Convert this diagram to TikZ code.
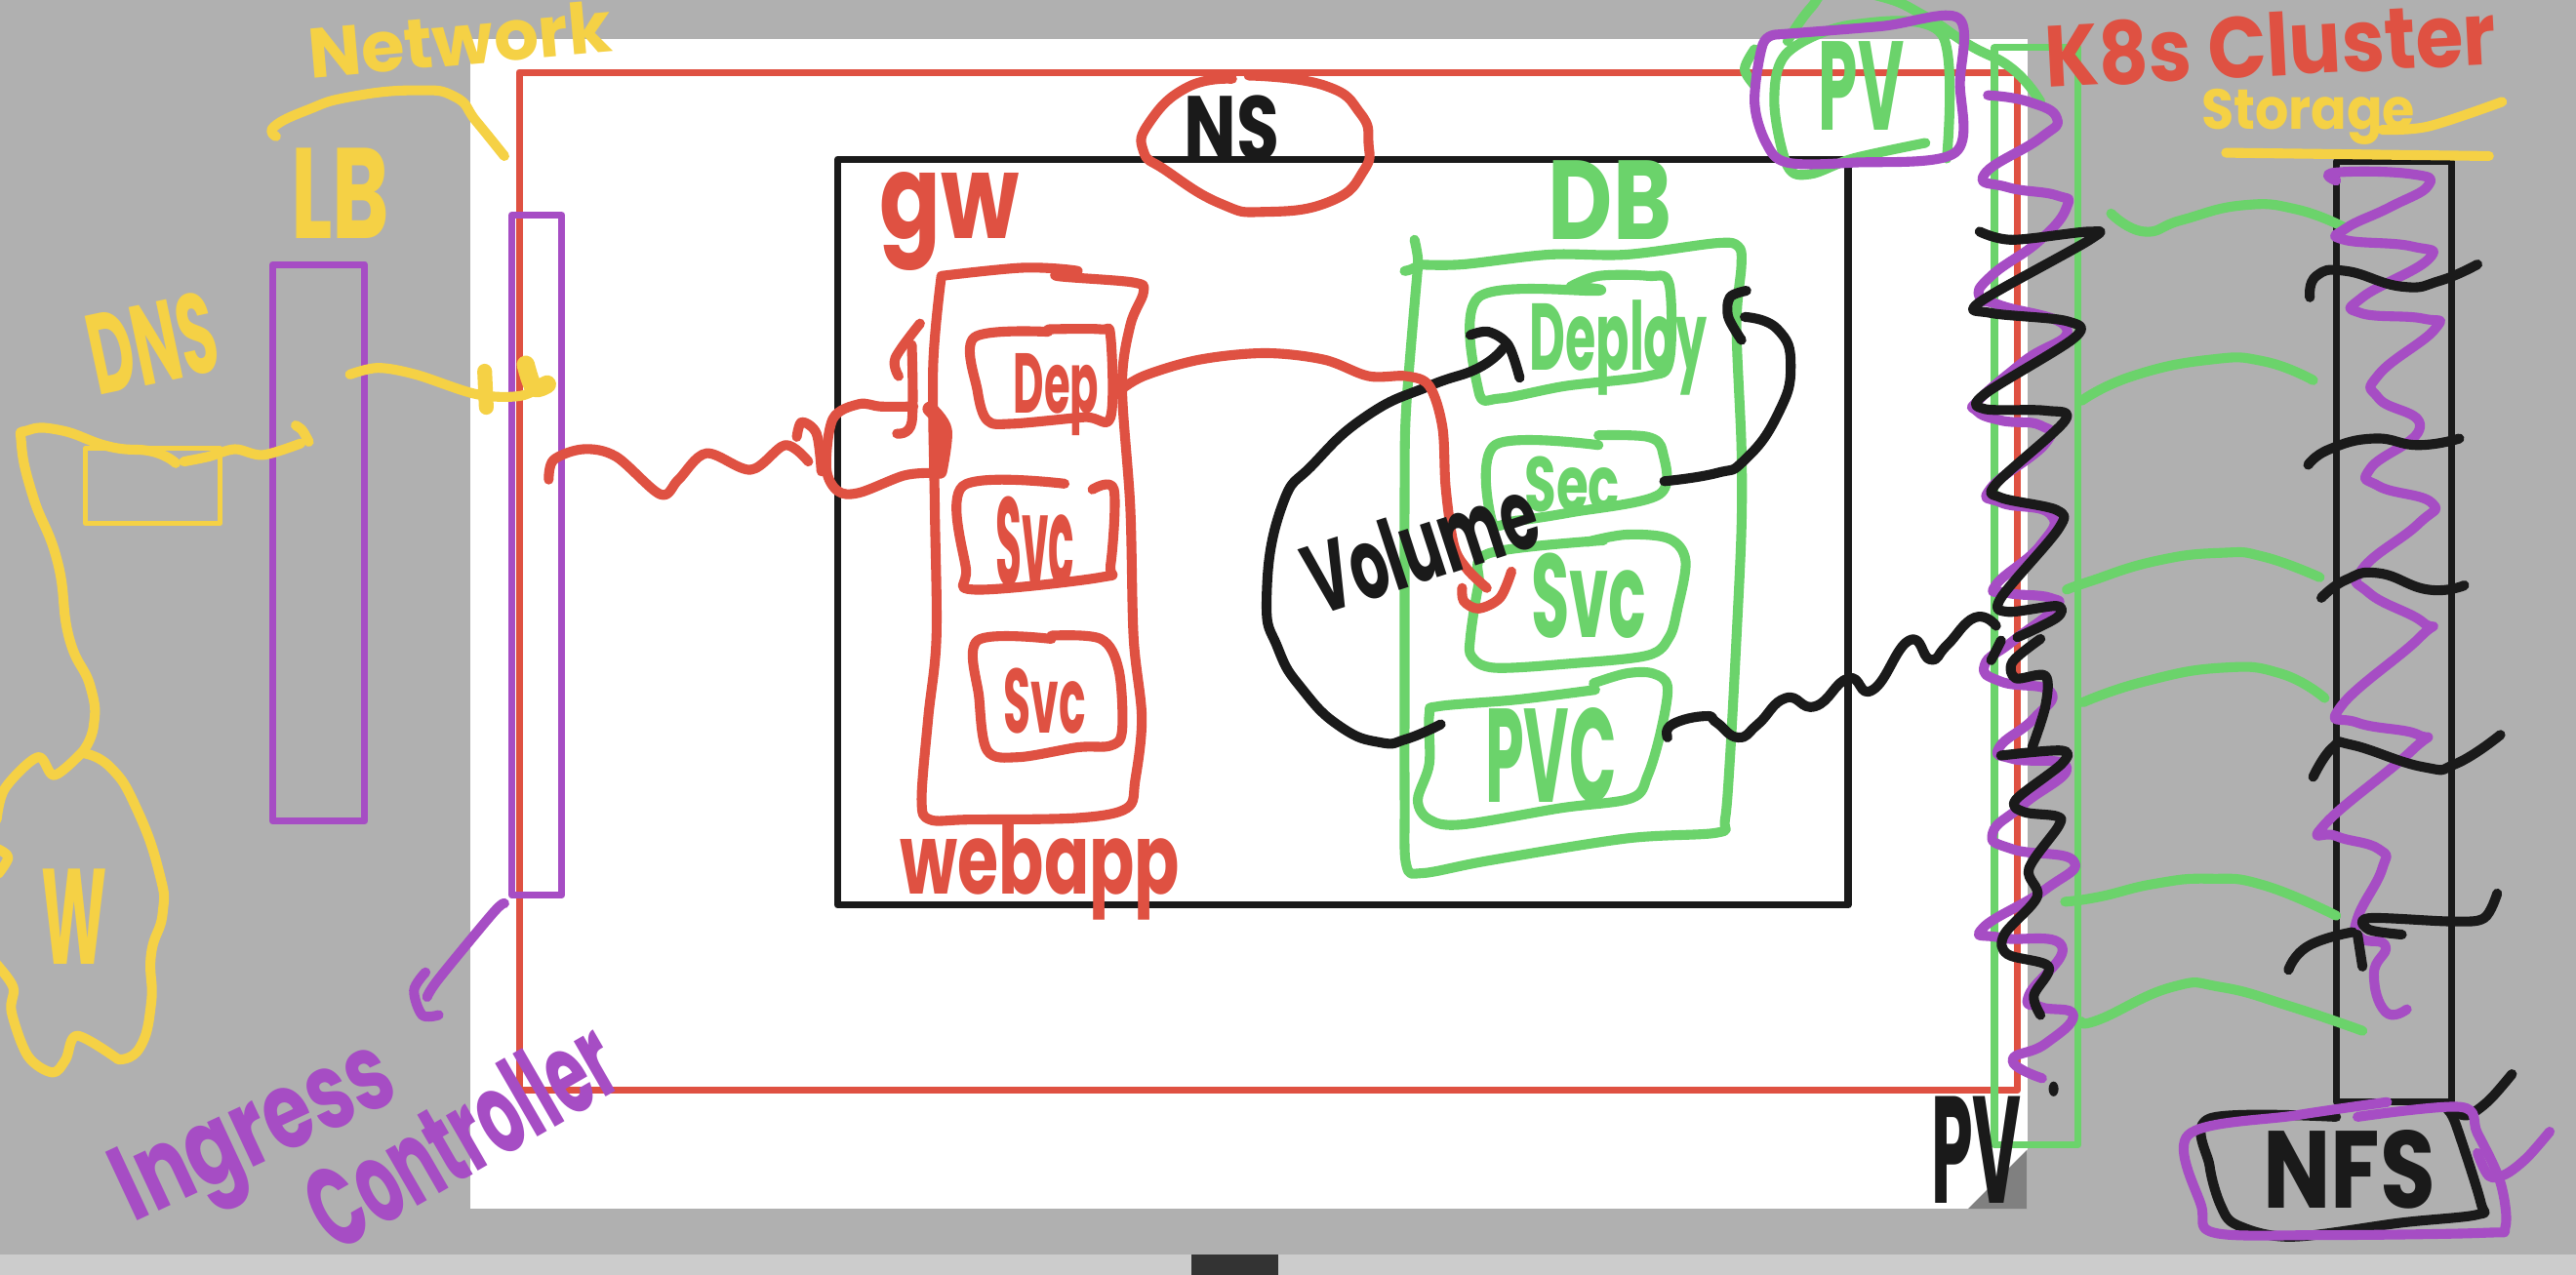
\documentclass[tikz,border=0pt]{standalone}
\usepackage{fontspec}
\usepackage{graphicx}
\setmainfont{Poppins}
\usetikzlibrary{fit}
\definecolor{skY}{HTML}{F5D145}
\definecolor{skR}{HTML}{DF5142}
\definecolor{skG}{HTML}{6BD36B}
\definecolor{skP}{HTML}{A64DC4}
\definecolor{skK}{HTML}{1A1A1A}
\definecolor{skBg}{HTML}{B0B0B0}
\definecolor{skFold}{HTML}{808080}
\definecolor{skBar}{HTML}{CCCCCC}
\definecolor{skHandle}{HTML}{333333}
\newcommand{\hw}[3]{\resizebox*{#1mm}{#2mm}{#3}}
\newcommand{\sk}[2]{\draw[hand,#1] plot[smooth,tension=.55] coordinates {#2};}
\newcommand{\skk}[2]{\draw[hand,#1] plot[smooth,tension=.85] coordinates {#2};}
\tikzset{
  hand/.style={line width=.6mm,line cap=round,line join=round},
  frame/.style={inner sep=0pt,outer sep=0pt,line width=.42mm,line join=round},
  lbl/.style={inner sep=0pt,outer sep=0pt,font=\bfseries}
}
\begin{document}
\begin{tikzpicture}[x=.1mm,y=-.1mm]
\clip (0,0) rectangle (1568,776);
\fill[skBg] (0,0) rectangle (1568,776);
% page
\fill[white] (286,24) rectangle (1234,736);
\fill[skFold] (1198,736) -- (1234,736) -- (1234,700) -- cycle;
\fill[skBar] (0,764) rectangle (1568,776);
\fill[skHandle] (725,764) rectangle (778,776);
% straight frames
\node[frame,draw=skR,fit={(316,44)(1228,664)}] (cluster) {};
\node[frame,draw=skK,line width=.45mm,fit={(510,97)(1125,551)}] (ns) {};
\node[frame,draw=skP,fit={(311.5,131)(342,545)}] (ingress) {};
\node[frame,draw=skP,fit={(166,161)(222,500)}] (lb) {};
\node[frame,draw=skY,line width=.3mm,fit={(52,273)(134,318.5)}] (dns) {};
\node[frame,draw=skG,fit={(1214,29)(1265,697)}] (pvstrip) {};
\node[frame,draw=skK,fit={(1422,98.5)(1492,671)}] (nfscol) {};
% yellow
\skk{skY}{(168,83)(167,77)(187,67)(213,59)(253,55)(277,59)(290,74)(307,95)}
\sk{skY}{(213,228)(230,224)(253,228)(290,240)(317,241)(333,233)}
\sk{skY,line width=.9mm}{(295,226)(296,248)}
\sk{skY,line width=1.1mm}{(320,222)(325,236)(333,234)}
\skk{skY}{(50,458)(57,442)(55,418)(42,388)(35,342)(20,302)(13,270)(17,262)(37,262)(67,272)(93,275)(107,282)}
\sk{skY}{(112,281)(127,278)(143,273.5)(160,277)(183,270)}
\sk{skY}{(180,259)(184,262)(188,269)}
\skk{skY}{(50,458.5)(67,467)(83,492)(97,531.6)(99,556)(92,581)(92,611)(85,638)(72,645)}
\sk{skY}{(72,645)(47,630.6)(40,645)(32,653)(17,643)(7,616)(8,601)(-3,586)}
\sk{skY}{(-2,499)(3,480)(23,461)(33,472)(50,458)}
\sk{skY}{(-1,532)(5,522)(-1,517)}
\sk{skY}{(1355,93)(1435,94)(1515,95)}
\sk{skY}{(1450,79)(1478,77)(1523,62)}
% red
\skk{skR}{(750,48)(723,53)(700,74)(696,92)(710,104)(743,124)(770,129)(810,122.5)(830,104)(833,87)(828,69)(806,52)(760,46)}
\sk{skR}{(573,168)(623,163)(656,165)(643,168)(690,172)(696,178)(688,198)(683,235)(688,309)(690,388)(695,437)(691,475)(686,492)(656,498)(590,499)(566,499)(561,487)(565,437)(570,388)(569,309)(568,223)(573,168)}
\sk{skR}{(334,292)(337,280)(355,273.5)(375,278)(402,301)(413,292)(430,276)(457,286)(478,271)(492,281)}
\sk{skR}{(485,266)(488,257)(497,264)(500,287)}
\sk{skR}{(556,247.5)(536,247.5)(523,246)(507,255)(503,285)(510,299)(523,300)(550,289.6)(566,288)}
\sk{skR,line width=.9mm}{(566,249)(575,262)(572,287)}
\sk{skR}{(560,197)(545,218)(547,229)}
\sk{skR}{(555,210)(555,257)(546,264)}
\sk{skR}{(638,202)(593,205.5)(595,238)(601,256)(616,258)(660,254)(676,254)(676,205)(670,200.5)(638,200.5)}
\sk{skR}{(648,294.5)(586,296)(588,346.5)(593,359)(670,351.5)(676,344)(678,298)(665,298)}
\sk{skR}{(640,389)(595,390)(596,425)(601,457)(620,461)(656,455)(676,454)(683,445)(681,408)(670,389)(640,387)}
% green
\sk{skG}{(861,146)(863,161)(855,165)}
\sk{skG}{(863,161)(890,161)(943,155)(990,155)(1045,148)(1058,150)(1060,161)(1057,198)(1060,272)(1060,322)(1057,388)(1053,462)(1050,499)(1045,507)(990,510.5)(906,524)(866,531.6)(856,526.6)(855,487)(855,388)(855,297)(856,247.5)(863,163)}
\sk{skG}{(956,174.5)(973,177)(900,181)(900,238)(913,242.6)(953,235)(1003,229)(1016,220)(1016,173)(1003,168)(973,168)(956,174.5)}
\sk{skG}{(973,271)(910,271)(908,317)(923,317)(956,312)(1010,301)(1012,275)(1003,266)(973,265)}
\sk{skG}{(976,329)(906,337)(900,356)(895,388)(896,400)(910,406.6)(956,404)(1003,399)(1016,388)(1021,371)(1026,341.6)(1016,328)(990,325.5)(966,330)}
\sk{skG}{(971,420)(923,426)(876,430)(870,435)(870,465)(863,487)(870,499)(890,502)(950,492)(993,486)(1003,472)(1011,445)(1015,418)(1006,410)(990,410)(970,416)}
\skk{skG}{(1088,25)(1102,5)(1115,-5)(1145,-2)(1172,10)(1198,27)(1225,42)(1242,62)}
\sk{skG}{(1068,30)(1062,42)(1068,52)}
\sk{skG}{(1172,87)(1128,96.5)(1102,106)(1088,101)(1080,62)(1088,32)(1128,15)(1182,21)(1185,96.5)}
\skk{skG}{(1285,130)(1305,141)(1328,134)(1365,125)(1398,127.5)(1428,139)}
\skk{skG}{(1267,244)(1298,229)(1345,219)(1378,220)(1408,231.5)}
\skk{skG}{(1258,359)(1272,354)(1312,341.6)(1352,336.6)(1378,339)(1412,351.5)}
\skk{skG}{(1268,427.6)(1305,415)(1352,406.6)(1388,410)(1415,425)}
\skk{skG}{(1257,549)(1278,546)(1312,538)(1345,535)(1378,539)(1422,557.5)}
\skk{skG}{(1267,622)(1278,620.7)(1322,601)(1352,601)(1395,613)(1438,627.6)}
% purple
\sk{skP}{(1082,21)(1145,16)(1192,11)(1193,50)(1190,93)(1128,99)(1088,99)(1075,87)(1068,62)(1073,27)(1082,21)}
\skk{skP}{(1210,58)(1235,62)(1252,72)(1242,84)(1208,106)(1222,114)(1252,119)(1258,126)(1242,146)(1212,168)(1205,181)(1218,186)(1258,200)(1232,220)(1205,243)(1203,250)(1218,256)(1242,259)(1245,270)(1212,297)(1218,306)(1248,313)(1242,332)(1215,356)(1222,361)(1248,364)(1250,371)(1225,390.5)(1208,405)(1218,415)(1248,421)(1238,437.5)(1217,455)(1225,462)(1258,467)(1232,489.5)(1213,507)(1225,517)(1262,524)(1245,541.5)(1207,565)(1218,571)(1255,576)(1235,606)(1242,613)(1262,618)(1245,635.5)(1225,645.5)(1243,656.5)}
\skk{skP}{(1422,110)(1422,105)(1468,106)(1478,113)(1455,126)(1428,139)(1427,146)(1468,150)(1478,158)(1438,181)(1437,190.6)(1475,194)(1482,200.5)(1448,228)(1448,242.6)(1473,260)(1443,285)(1448,296)(1480,306)(1472,319)(1438,346.5)(1442,361)(1475,379)(1473,388)(1425,430)(1435,440)(1472,447.4)(1468,457)(1415,502)(1422,509)(1448,517)(1450,529)(1435,559)(1437,571)(1452,576)(1445,593)(1452,616)(1465,614.5)}
\sk{skP}{(307,550)(300,556)(267,596)(260,607)}
\sk{skP}{(259,592)(252,603)(257,618)(267,618)}
% black
\skk{skK}{(877,441)(856,450)(840,452)(816,442.5)(793,420)(778,395)(771,364)(780,309)(800,282)(833,252.5)(870,235)(900,224)(915,212)}
\sk{skK}{(895,204)(906,202)(918,210)(925,230)}
\skk{skK}{(1013,293)(1045,288)(1062,280)(1082,252.5)(1090,223)(1082,200.5)(1062,193)}
\sk{skK}{(1063,177)(1053,181)(1052,193)(1060,207)}
\skk{skK}{(1015,449)(1018,441)(1038,436)(1045,440)(1058,449)(1070,441)(1087,425)(1105,430)(1125,413)(1140,420)(1162,390)(1175,401.6)(1185,393)(1202,376)(1215,381)}
\sk{skK}{(1205,141)(1225,146)(1272,141)(1272,146)(1205,184)(1212,190.6)(1258,195.5)(1263,205.4)(1208,240)(1208,249)(1245,250)(1257,256)(1215,294.6)(1218,303)(1252,310.6)(1253,322)(1218,364)(1222,372.5)(1252,369)(1252,376)(1228,388)}
\sk{skK}{(1242,389)(1225,403)(1227,413)(1245,411.5)(1245,430)(1237,455)}
\sk{skK}{(1218,460)(1255,457)(1255,465)(1227,487)(1232,494.4)(1252,497)(1253,503)(1235,529)(1240,546)(1220,569)(1222,581)(1247,588.5)(1238,606)(1242,618)}
\sk{skK}{(1212,402)(1218,390)}
\fill[skK] (1250,663) ellipse (3 and 4.5);
\skk{skK}{(1406,181)(1410,168)(1428,165)(1462,174.5)(1485,171)(1508,161)}
\skk{skK}{(1405,283)(1418,273.5)(1445,267)(1472,271)(1497,267)}
\skk{skK}{(1413,364)(1428,353)(1448,349)(1478,359)(1500,356.4)}
\skk{skK}{(1408,473)(1420,455)(1432,453.6)(1475,467)(1495,465)(1522,447.4)}
\skk{skK}{(1393,590.5)(1405,576)(1432,567.5)}
\sk{skK}{(1435,569)(1438,588.5)}
\sk{skK}{(1462,569)(1442,566)(1442,559)(1492,561)(1512,559)(1520,544)}
\sk{skK}{(1492,676)(1502,679)(1515,670)(1529,654)}
\sk{skK}{(1422,680)(1345,681)(1345,710)(1352,734.5)(1362,746)(1395,753)(1462,744.4)(1508,739.5)(1510,732)(1495,685)(1490,676)}
% red over black
\sk{skR}{(680,239)(696,229)(730,219)(770,215)(806,219)(833,229)(856,229)(870,235)(878,260)(880,297)(885,332)(893,346.5)(905,358)}
\sk{skR}{(890,358)(891,366)(900,370.5)(913,364)(920,348)}
% purple over black
\sk{skP}{(1453,671)(1398,679)(1332,691)(1340,734.5)(1348,750.6)(1412,752)(1512,750.6)(1525,747)(1522,720)(1508,690)(1498,674)(1435,680)}
\sk{skP}{(1508,702)(1515,716)(1525,715)(1538,705)(1552,689)}
% labels
\node[lbl,text=skY,rotate=5] (lNetwork) at (280,24) {\hw{18.5}{3.2}{Network}};
\node[lbl,text=skY] (lLB) at (207,118) {\hw{6}{5.5}{LB}};
\node[lbl,text=skY,rotate=12] (lDNS) at (93,209) {\hw{7.8}{5}{DNS}};
\node[lbl,text=skY] (lW) at (45,558) {\hw{4}{5.8}{W}};
\node[lbl,text=skY] (lStorage) at (1405,71) {\hw{13}{3.4}{Storage}};
\node[lbl,text=skP,rotate=25] (lIngress) at (157,694) {\hw{18}{6.4}{Ingress}};
\node[lbl,text=skP,rotate=30] (lController) at (280,690) {\hw{20.5}{5.2}{Controller}};
\node[lbl,text=skK] (lNS) at (750,78) {\hw{5.8}{4}{NS}};
\node[lbl,text=skR] (lgw) at (578,135) {\hw{8.5}{6}{gw}};
\node[lbl,text=skR] (lDep) at (643,240) {\hw{5.2}{5}{Dep}};
\node[lbl,text=skR] (lSvcA) at (630,330) {\hw{4.8}{5.5}{Svc}};
\node[lbl,text=skR] (lSvcB) at (636,427) {\hw{5}{4}{Svc}};
\node[lbl,text=skR] (lwebapp) at (633,530) {\hw{17}{6}{webapp}};
\node[lbl,text=skG] (lDB) at (980,122) {\hw{7.5}{4.8}{DB}};
\node[lbl,text=skG] (lDeploy) at (985,212) {\hw{10.8}{5.8}{Deploy}};
\node[lbl,text=skG] (lSec) at (957,295) {\hw{5.8}{3.4}{Sec}};
\node[lbl,text=skG] (lSvcC) at (967,363) {\hw{7}{5.2}{Svc}};
\node[lbl,text=skG] (lPVC) at (944,460) {\hw{8}{5.8}{PVC}};
\node[lbl,text=skG] (lPVtop) at (1133,52) {\hw{5.2}{5.4}{PV}};
\node[lbl,text=skK,rotate=18] (lVolume) at (865,332) {\hw{14.5}{4.5}{Volume}};
\node[lbl,text=skR,rotate=3] (lK8s) at (1382,27) {\hw{27.5}{4}{K8s Cluster}};
\node[lbl,text=skK] (lNFS) at (1430,712) {\hw{10.5}{4.8}{NFS}};
\node[lbl,text=skK] (lPVbot) at (1203,700) {\hw{5.5}{6.5}{PV}};
\end{tikzpicture}
\end{document}
